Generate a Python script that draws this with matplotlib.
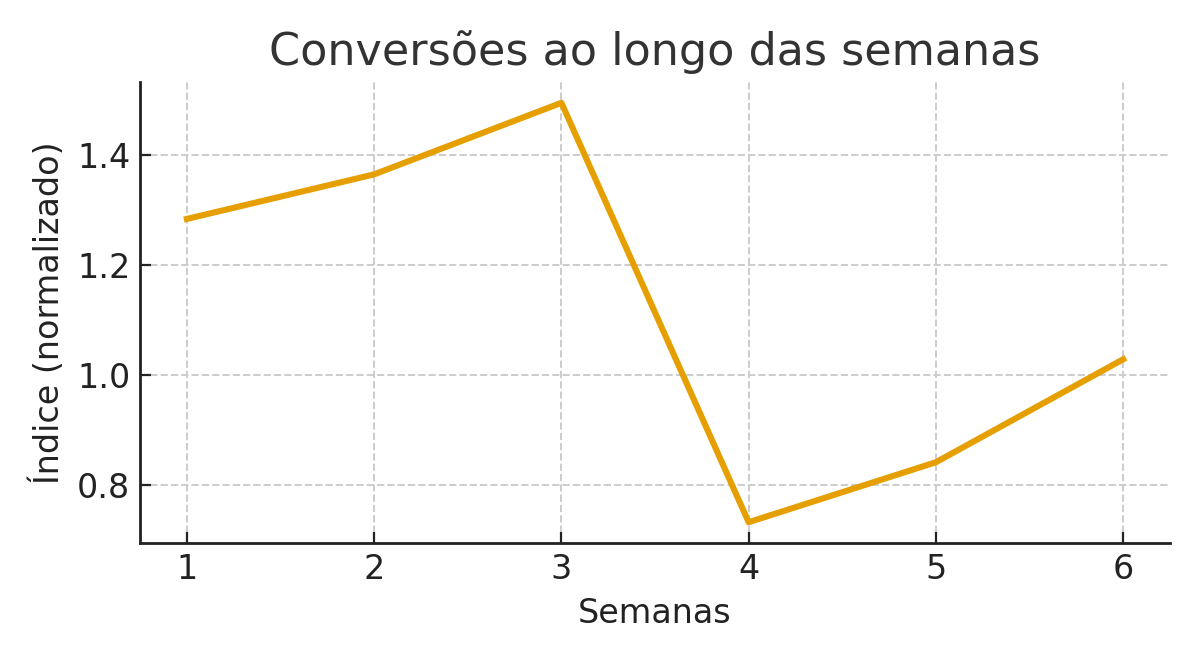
import matplotlib
matplotlib.use("Agg")
import matplotlib.pyplot as plt

semanas = [1, 2, 3, 4, 5, 6]
indice = [1.284, 1.365, 1.495, 0.733, 0.842, 1.029]

fig = plt.figure(figsize=(6, 3.3), dpi=200)
ax = fig.add_axes([0.1167, 0.177, 0.8583, 0.699])

ax.plot(semanas, indice, color="#E69F00", linewidth=2.2)

ax.set_title("Conversões ao longo das semanas", fontsize=16, color="#333333")
ax.set_xlabel("Semanas", fontsize=12, color="#222222")
ax.set_ylabel("Índice (normalizado)", fontsize=12, color="#222222")
ax.set_xticks(semanas)
ax.tick_params(direction="in", labelsize=12, colors="#222222", length=4)
ax.grid(True, linestyle="--", color="#cccccc", linewidth=0.7)
ax.set_axisbelow(True)
for s in ["top", "right"]:
    ax.spines[s].set_visible(False)
for s in ["left", "bottom"]:
    ax.spines[s].set_color("#222222")
    ax.spines[s].set_linewidth(1.0)

fig.savefig("out.png", dpi=200)
